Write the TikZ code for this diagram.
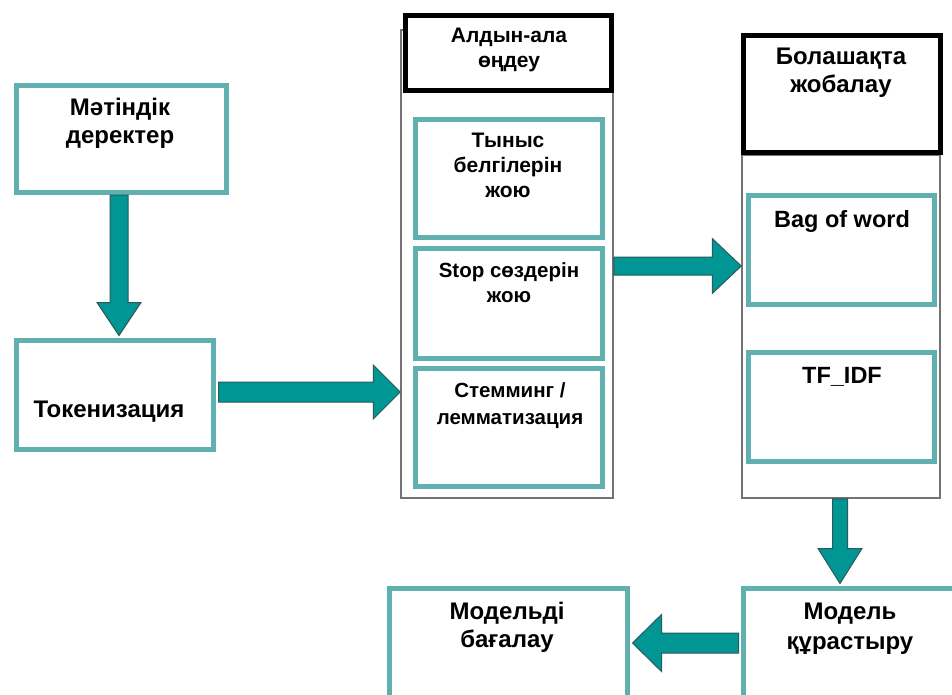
\documentclass[tikz,border=0pt]{standalone}
\usepackage{fontspec}
\setmainfont{Liberation Sans}
\usetikzlibrary{calc}
\definecolor{tealline}{RGB}{96,176,176}
\definecolor{tealfill}{RGB}{0,150,148}
\definecolor{arrowedge}{RGB}{45,90,90}
\definecolor{colgray}{RGB}{115,115,115}
% vertical block arrow: #1 start, #2 tip, #3 shaft half width, #4 head half width, #5 signed head length (canvas y offset)
\newcommand\varrow[5]{\draw[barrow] let \p1=(#1), \p2=(#2) in
 (\x2-#3pt,\y1) -- (\x2-#3pt,\y2+#5pt) -- (\x2-#4pt,\y2+#5pt) -- (\x2,\y2) --
 (\x2+#4pt,\y2+#5pt) -- (\x2+#3pt,\y2+#5pt) -- (\x2+#3pt,\y1) -- cycle;}
% horizontal block arrow: #5 signed head length (canvas x offset from tip)
\newcommand\harrow[5]{\draw[barrow] let \p1=(#1), \p2=(#2) in
 (\x1,\y2+#3pt) -- (\x2+#5pt,\y2+#3pt) -- (\x2+#5pt,\y2+#4pt) -- (\x2,\y2) --
 (\x2+#5pt,\y2-#4pt) -- (\x2+#5pt,\y2-#3pt) -- (\x1,\y2-#3pt) -- cycle;}
\tikzset{
  tbox/.style={draw=tealline, line width=5pt, fill=white, rectangle, inner sep=0pt},
  hbox/.style={draw=black, line width=5pt, fill=white, rectangle, inner sep=0pt},
  cbox/.style={draw=colgray, line width=1.5pt, fill=white, rectangle, inner sep=0pt},
  barrow/.style={fill=tealfill, draw=arrowedge, line width=1pt, line join=miter},
  bigtxt/.style={anchor=north, inner sep=0pt, align=center, font=\bfseries\fontsize{24}{28}\selectfont},
  midtxt/.style={anchor=north, inner sep=0pt, align=center, font=\bfseries\fontsize{21}{25}\selectfont},
}
\begin{document}
\begin{tikzpicture}[x=1pt, y=-1pt]
\useasboundingbox (0,0) rectangle (952,695);
\clip (0,0) rectangle (952,695);
\fill[white] (0,0) rectangle (952,695);

% left chain
\node[tbox, minimum width=210pt, minimum height=107pt] (data) at (121.5,139) {};
\node[tbox, minimum width=197pt, minimum height=109pt] (token) at (115,395) {};

% preprocessing column
\node[cbox, minimum width=212pt, minimum height=468pt] (pcol) at (507,264) {};
\node[hbox, minimum width=206pt, minimum height=75pt] (phead) at (508.5,53) {};
\node[tbox, minimum width=187pt, minimum height=118pt] (p1) at (509,178.5) {};
\node[tbox, minimum width=187pt, minimum height=110pt] (p2) at (509,303.5) {};
\node[tbox, minimum width=187pt, minimum height=118pt] (p3) at (509,427.5) {};

% feature column
\node[cbox, minimum width=198pt, minimum height=343pt] (fcol) at (841,326.5) {};
\node[hbox, minimum width=197pt, minimum height=117pt] (fhead) at (842,94) {};
\node[tbox, minimum width=186pt, minimum height=109pt] (bag) at (841.5,250) {};
\node[tbox, minimum width=186pt, minimum height=109pt] (tfidf) at (841.5,407) {};

% bottom boxes
\node[tbox, minimum width=230pt, minimum height=130pt] (model) at (858.5,653.5) {};
\node[tbox, minimum width=238pt, minimum height=130pt] (eval) at (508.5,653.5) {};

% texts
\node[bigtxt] (datat) at (120,98) {Мәтіндік\\деректер};
\node[bigtxt] (tokent) at (109,401) {Токенизация};
\node[midtxt] (pheadt) at (509,28) {Алдын-ала\\өңдеу};
\node[midtxt] (p1t) at (508,133) {Тыныс\\белгілерін\\жою};
\node[midtxt, font=\bfseries\fontsize{20.5}{25}\selectfont] (p2t) at (509,262) {Stop сөздерін\\жою};
\node[midtxt, font=\bfseries\fontsize{20.5}{27}\selectfont] (p3t) at (510,382) {Стемминг /\\лемматизация};
\node[bigtxt] (fheadt) at (841,48) {Болашақта\\жобалау};
\node[midtxt, font=\bfseries\fontsize{23.5}{25}\selectfont] (bagt) at (842,210) {Bag of word};
\node[midtxt, font=\bfseries\fontsize{23.5}{25}\selectfont] (tft) at (842,367) {TF\_IDF};
\node[bigtxt, font=\bfseries\fontsize{24}{30}\selectfont] (modelt) at (850,603) {Модель\\құрастыру};
\node[bigtxt] (evalt) at (507,602) {Модельді\\бағалау};

% block arrows
\varrow{data.south}{$(token.north)+(4,-2.5)$}{9}{22}{33}
\harrow{$(token.east)+(2.5,0)$}{$(pcol.west)+(0,128)$}{10}{27}{-27}
\harrow{pcol.east}{$(fcol.west)+(0,-60.5)$}{9}{27.5}{-29}
\varrow{fcol.south}{$(fcol.south |- model.north)+(-1,-2.5)$}{7.5}{22}{35}
\harrow{$(model.west)+(-2.5,0)$}{$(eval.east)+(2.5,-10.5)$}{10}{28.5}{29}
\end{tikzpicture}
\end{document}
